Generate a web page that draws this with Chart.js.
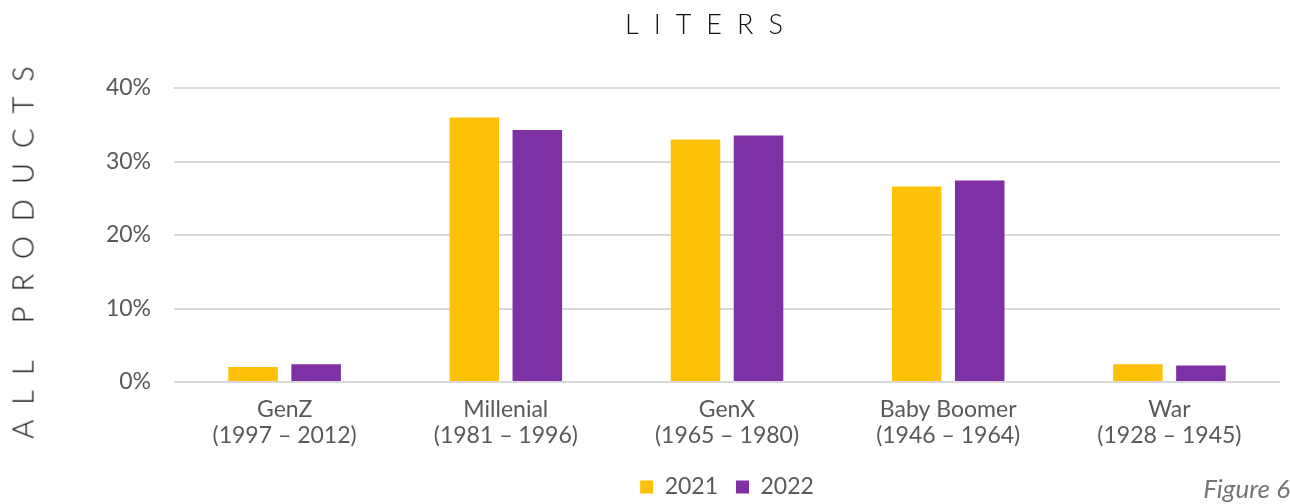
<!DOCTYPE html>
<html>
<head>
<meta charset="utf-8">
<script src="https://cdn.jsdelivr.net/npm/chart.js@4.4.1/dist/chart.umd.min.js"></script>
<style>
  body { margin: 0; background: #fff; }
  #wrap { position: relative; width: 1290px; height: 504px; font-family: Lato, sans-serif; }
  #title { position: absolute; top: 10px; left: 625px; white-space: nowrap; line-height: 27px;
           font-size: 27px; font-weight: 300; letter-spacing: 15px; color: #111; }
  #side { position: absolute; left: 22px; top: 245px; transform: translate(-50%, -50%) rotate(-90deg);
          white-space: nowrap; line-height: 29px; font-size: 29px; font-weight: 300; letter-spacing: 15px; color: #111; }
  #fig { position: absolute; right: 0; bottom: 0; font-size: 26px; font-style: italic; color: #767676; }
</style>
</head>
<body>
<div id="wrap">
  <canvas id="myChart" width="1290" height="504"></canvas>
  <div id="title">LITERS</div>
  <div id="side">ALL PRODUCTS</div>
  <div id="fig">Figure 6</div>
</div>
<script>
let categories = [
  ['GenZ', '(1997 – 2012)'],
  ['Millenial', '(1981 – 1996)'],
  ['GenX', '(1965 – 1980)'],
  ['Baby Boomer', '(1946 – 1964)'],
  ['War', '(1928 – 1945)']
];
let series2021 = [2.05, 36.0, 33.0, 26.6, 2.4];
let series2022 = [2.4, 34.3, 33.55, 27.4, 2.25];
let yTicks = [0, 10, 20, 30, 40];

let chartData = {
  labels: categories,
  datasets: [{
    label: '2021',
    data: series2021,
    backgroundColor: '#FFC107',
    borderWidth: 0,
    categoryPercentage: 0.57,
    barPercentage: 0.786
  }, {
    label: '2022',
    data: series2022,
    backgroundColor: '#7F30A5',
    borderWidth: 0,
    categoryPercentage: 0.57,
    barPercentage: 0.786
  }]
};

let tickFont = { family: 'Lato', size: 23, lineHeight: 1.15 };

new Chart(document.getElementById('myChart'), {
  type: 'bar',
  data: chartData,
  options: {
    responsive: false,
    animation: false,
    layout: { padding: { left: 105, right: 10, top: 88, bottom: -4.5 } },
    plugins: {
      title: { display: false },
      tooltip: { enabled: false },
      legend: {
        position: 'bottom',
        fullSize: false,
        labels: {
          boxWidth: 13,
          boxHeight: 13,
          padding: 18,
          color: '#595959',
          font: { family: 'Lato', size: 23 }
        }
      }
    },
    scales: {
      x: {
        afterFit: function(scale) { scale.height = 75.5; },
        grid: { display: false, drawTicks: false },
        border: { display: false },
        ticks: { color: '#595959', font: tickFont, padding: 14, maxRotation: 0 }
      },
      y: {
        min: 0,
        max: 40,
        afterFit: function(scale) { scale.width = 69; },
        afterBuildTicks: function(scale) {
          scale.ticks = yTicks.map(function(v) { return { value: v }; });
        },
        grid: { color: '#d9d9d9', lineWidth: 2, drawTicks: false },
        border: { display: false },
        ticks: {
          color: '#595959',
          font: { family: 'Lato', size: 23 },
          padding: 23,
          callback: function(v) { return v + '%'; }
        }
      }
    }
  }
});
</script>
</body>
</html>
